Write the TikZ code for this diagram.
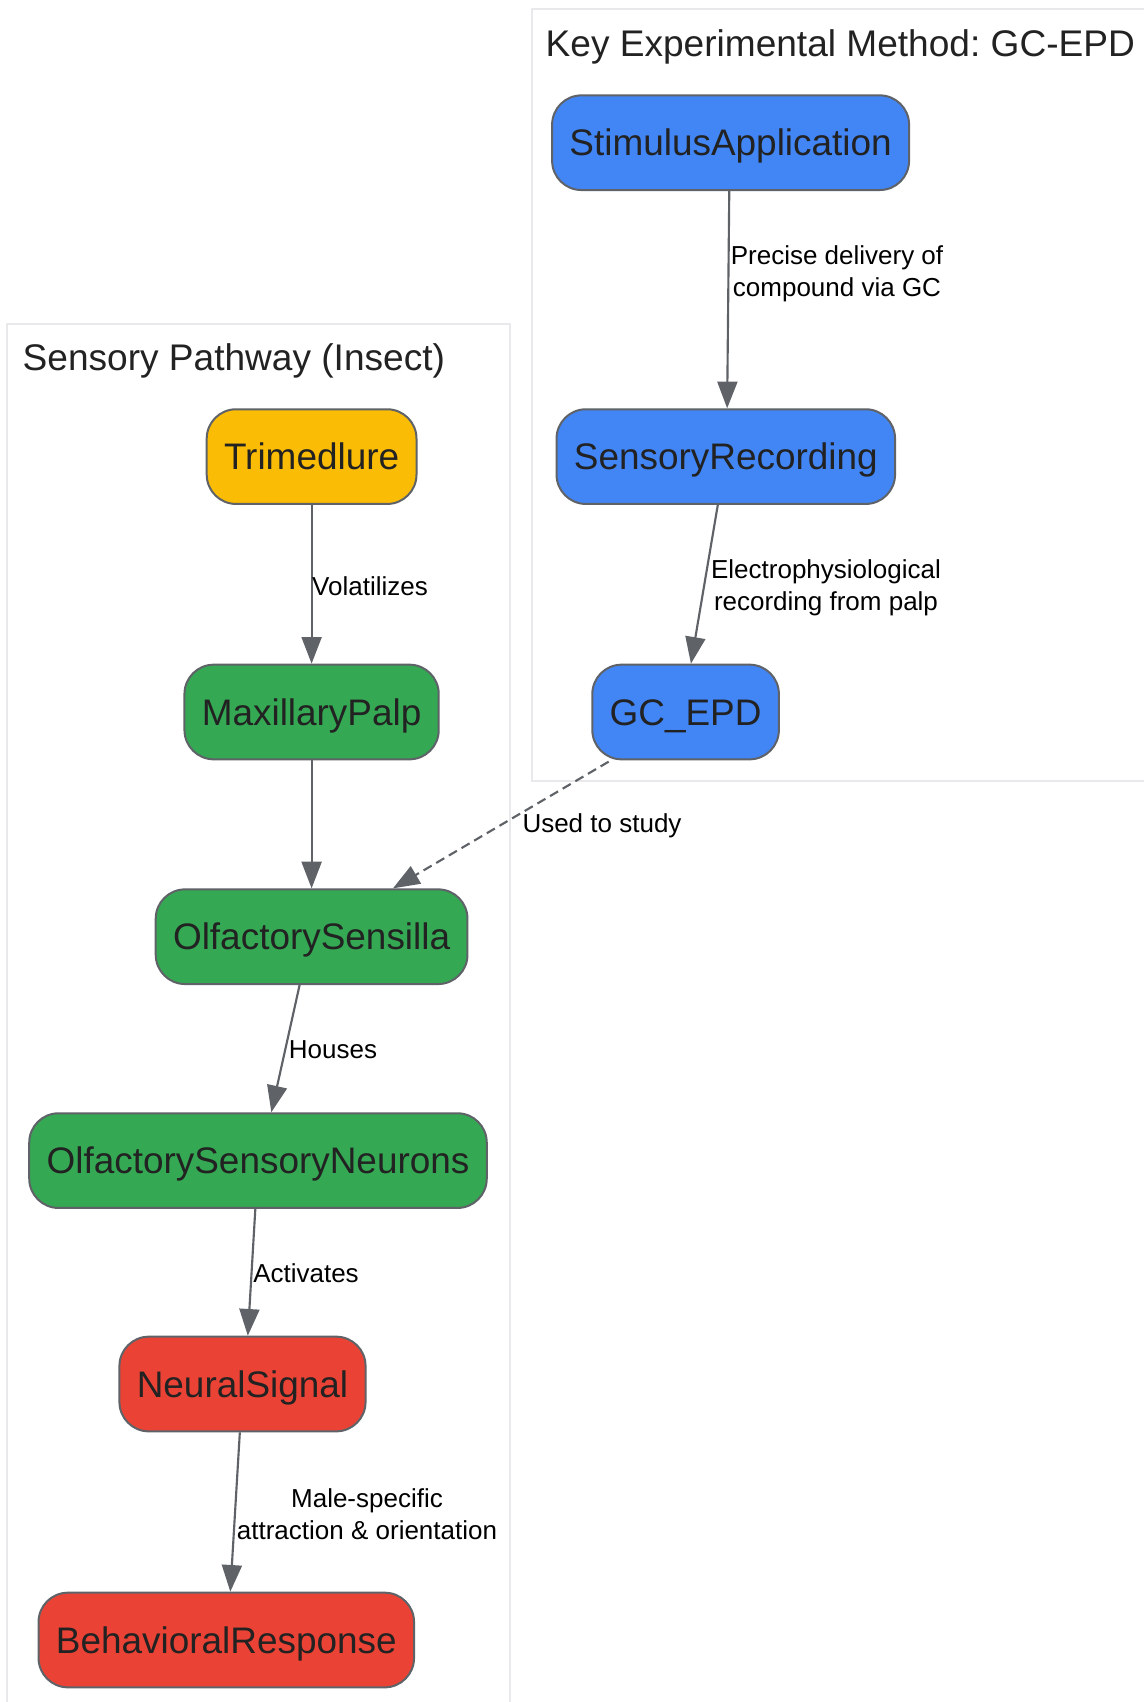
\documentclass[tikz,border=0pt]{standalone}
\usepackage{fontspec}
\setmainfont{Liberation Sans}
\usetikzlibrary{arrows.meta}
\definecolor{gyellow}{HTML}{FBBC05}
\definecolor{ggreen}{HTML}{34A853}
\definecolor{gblue}{HTML}{4285F4}
\definecolor{gred}{HTML}{EA4335}
\definecolor{edgegray}{HTML}{5F6368}
\definecolor{txtdark}{HTML}{222222}
\definecolor{clustergray}{HTML}{E9E9EC}

\begin{document}
\frenchspacing
\begin{tikzpicture}[x=0.75pt,y=-0.75pt,
    box/.style={draw=edgegray, line width=1.5pt, rounded corners=22pt,
        minimum height=71pt, inner xsep=13pt, text=txtdark,
        text height=27pt, text depth=7.2pt,
        font=\fontsize{27.7}{33}\selectfont},
    flow/.style={-{Triangle[length=20pt,width=15pt]}, line width=1.6pt, draw=edgegray},
    lbl/.style={font=\fontsize{19.5}{23.6}\selectfont, align=center, text=black},
    title/.style={font=\fontsize{27.8}{33}\selectfont, text=txtdark, anchor=west}]
    \useasboundingbox (0,0) rectangle (1143,1702);

    % Clusters
    \draw[clustergray, line width=1.5pt, fill=white] (7,324) rectangle (510,1715);
    \draw[clustergray, line width=1.5pt, fill=white] (532,9) rectangle (1155,781);
    \node[title] (tpath) at (18,361) {Sensory Pathway (Insect)};
    \node[title] (tmeth) at (541,47) {Key Experimental Method: GC-EPD};

    % Method nodes
    \node[box, fill=gblue] (stim) at (730.6,142.7) {StimulusApplication};
    \node[box, fill=gblue] (rec) at (725.8,456.6) {SensoryRecording};
    \node[box, fill=gblue] (gc) at (685.6,712) {GC\_EPD};

    % Pathway nodes
    \node[box, fill=gyellow] (trim) at (311.6,456.6) {Trimedlure};
    \node[box, fill=ggreen] (palp) at (311.6,712) {MaxillaryPalp};
    \node[box, fill=ggreen] (sens) at (311.6,936.7) {OlfactorySensilla};
    \node[box, fill=ggreen] (osn) at (258,1160.6) {OlfactorySensoryNeurons};
    \node[box, fill=gred] (neur) at (242.5,1384) {NeuralSignal};
    \node[box, fill=gred] (behav) at (226.3,1640) {BehavioralResponse};

    % Method edges
    \draw[flow] ([xshift=-1pt]stim.south) -- ([xshift=1pt]rec.north);
    \node[lbl] (lstim) at (837,274) {Precise delivery of\\compound via GC};
    \draw[flow] ([xshift=-6pt]rec.south) -- ([xshift=4pt]gc.north);
    \node[lbl] (lrec) at (826,588) {Electrophysiological\\recording from palp};

    % Pathway edges
    \draw[flow] (trim) -- (palp);
    \node[lbl] (ltrim) at (370,586) {Volatilizes};
    \draw[flow] (palp) -- (sens);
    \draw[flow] ([xshift=-9pt]sens.south) -- ([xshift=10pt]osn.north);
    \node[lbl] (lsens) at (333,1050) {Houses};
    \draw[flow] ([xshift=-2pt]osn.south) -- ([xshift=4pt]neur.north);
    \node[lbl] (losn) at (306,1273) {Activates};
    \draw[flow] ([xshift=-2pt]neur.south) -- ([xshift=3pt]behav.north);
    \node[lbl] (lneur) at (367,1514) {Male-specific\\attraction \& orientation};

    % Link between clusters
    \draw[flow, dash pattern=on 7pt off 4pt] ([xshift=13pt,yshift=-1pt]gc.south west) -- ([xshift=61pt]sens.north);
    \node[lbl] (lgc) at (602,826) {Used to study};
\end{tikzpicture}
\end{document}
